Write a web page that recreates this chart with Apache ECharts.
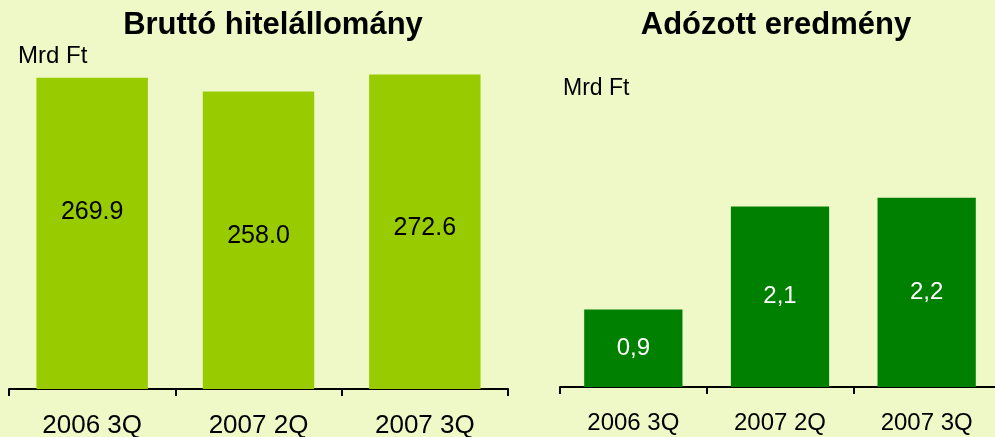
<!DOCTYPE html>
<html>
<head>
<meta charset="utf-8">
<script src="https://cdn.jsdelivr.net/npm/echarts@6/dist/echarts.min.js"></script>
<style>
  html, body { margin: 0; padding: 0; background: #eff9c8; }
  #chart { width: 995px; height: 437px; }
</style>
</head>
<body>
<div id="chart"></div>
<script>
// data
let categories = ['2006 3Q', '2007 2Q', '2007 3Q']
let hitelValues = [269.9, 258.0, 272.6]
let hitelLabels = ['269.9', '258.0', '272.6']
let eredmenyValues = [0.9, 2.1, 2.2]
let eredmenyLabels = ['0,9', '2,1', '2,2']

// label nudges for the left chart (labels are not exactly centred in the bars)
let hitelLabelShift = [-21, -4, -4]

let font = '"Liberation Sans", Arial, sans-serif'
let myChart = echarts.init(document.getElementById('chart'))

let option = {
  backgroundColor: '#eff9c8',
  animation: false,
  title: [
    {
      text: 'Bruttó hitelállomány',
      left: 268, top: 5, textAlign: 'center',
      textStyle: { fontFamily: font, fontSize: 31, fontWeight: 'bold', color: '#000' }
    },
    {
      text: 'Adózott eredmény',
      left: 771, top: 5, textAlign: 'center',
      textStyle: { fontFamily: font, fontSize: 31, fontWeight: 'bold', color: '#000' }
    }
  ],
  graphic: [
    { type: 'text', left: 18, top: 44, style: { text: 'Mrd Ft', font: '24px ' + font, fill: '#000' } },
    { type: 'text', left: 563, top: 77, style: { text: 'Mrd Ft', font: '23px ' + font, fill: '#000' } }
  ],
  grid: [
    { left: 9, width: 499, top: 43, bottom: 48, outerBoundsMode: 'none' },
    { left: 560, width: 440, top: 129, bottom: 50, outerBoundsMode: 'none' }
  ],
  xAxis: [0, 1].map(function (i) {
    return {
      type: 'category',
      gridIndex: i,
      data: categories,
      axisLine: { lineStyle: { color: '#000', width: 2 } },
      axisTick: { show: true, length: 7, lineStyle: { color: '#000', width: 2 } },
      axisLabel: { color: '#000', fontFamily: font, fontSize: i == 0 ? 26 : 24, margin: 24 }
    }
  }),
  yAxis: [
    { type: 'value', gridIndex: 0, min: 0, max: 300, show: false },
    { type: 'value', gridIndex: 1, min: 0, max: 3, show: false }
  ],
  series: [
    {
      type: 'bar',
      xAxisIndex: 0, yAxisIndex: 0,
      barWidth: '67%',
      itemStyle: { color: '#99cc00' },
      data: hitelValues.map(function (v, i) {
        return {
          value: v,
          label: {
            show: true, position: 'inside', offset: [0, hitelLabelShift[i]],
            formatter: hitelLabels[i],
            color: '#000', fontFamily: font, fontSize: 25
          }
        }
      })
    },
    {
      type: 'bar',
      xAxisIndex: 1, yAxisIndex: 1,
      barWidth: '67%',
      itemStyle: { color: '#008000' },
      data: eredmenyValues.map(function (v, i) {
        return {
          value: v,
          label: {
            show: true, position: 'inside',
            formatter: eredmenyLabels[i],
            color: '#fff', fontFamily: font, fontSize: 24
          }
        }
      })
    }
  ]
}
myChart.setOption(option)
</script>
</body>
</html>
